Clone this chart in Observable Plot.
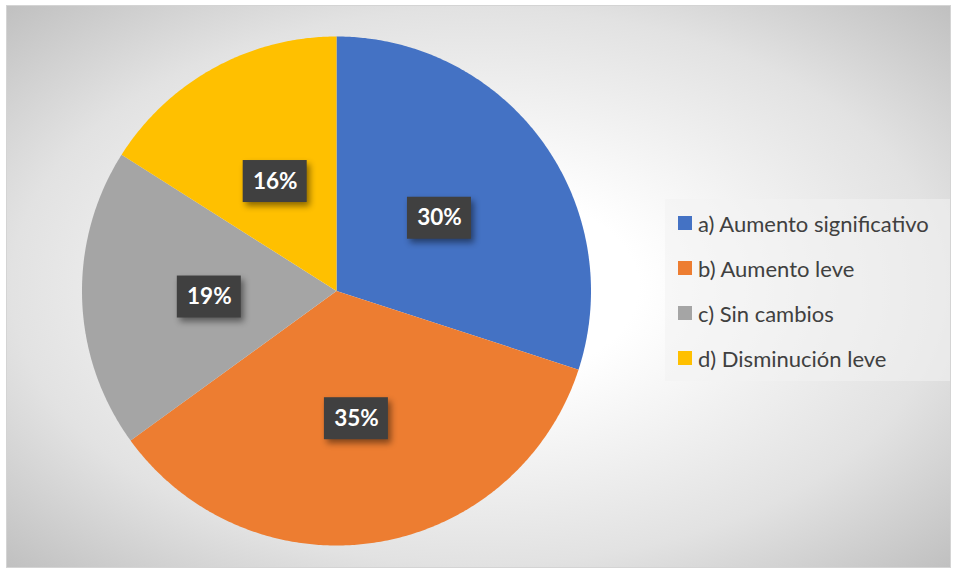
<!DOCTYPE html>
<html>
<head>
<meta charset="utf-8">
<script src="https://cdn.jsdelivr.net/npm/d3@7"></script>
<script src="https://cdn.jsdelivr.net/npm/@observablehq/plot@0.6"></script>
<style>
  html, body { margin: 0; padding: 0; background: #ffffff; }
  #wrap { position: relative; width: 954px; height: 572px; overflow: hidden; }
  #bg { position: absolute; left: 6px; top: 5px; width: 943px; height: 561px;
        border: 1px solid #d4d4d4;
        background: radial-gradient(ellipse farthest-corner at 50% 50%, #ffffff 0%, #ffffff 24%, #e2e2e2 70%, #c0c0c0 100%); }
  #chart { position: absolute; left: 0; top: 0; }
  #legend { position: absolute; left: 665px; top: 199px; width: 285px; height: 182px;
            background: rgba(242,242,242,0.55); font-family: Lato, "Open Sans", sans-serif;
            font-size: 22px; color: #404040; }
  .row { position: absolute; left: 13px; height: 24px; display: flex; align-items: center; white-space: nowrap; }
  .sw { width: 14px; height: 14px; margin-right: 6px; flex: none; }
</style>
</head>
<body>
<div id="wrap">
  <div id="bg"></div>
  <div id="chart"></div>
  <div id="legend"></div>
</div>
<script>
const categories = ["a) Aumento significativo", "b) Aumento leve", "c) Sin cambios", "d) Disminución leve"];
const values = [30, 35, 19, 16];
const labels = ["30%", "35%", "19%", "16%"];
const colors = ["#4472C4", "#ED7D31", "#A5A5A5", "#FFC000"];

const cx = 336, cy = 290.5, R = 254.5;

const arcs = d3.pie().sort(null).value(d => d)(values);

// polygon points for each slice (angles clockwise from 12 o'clock)
const slicePts = [];
arcs.forEach((a, i) => {
  slicePts.push({cat: categories[i], x: 0, y: 0});
  const n = Math.max(2, Math.ceil((a.endAngle - a.startAngle) / (Math.PI / 360)));
  for (let k = 0; k <= n; k++) {
    const t = a.startAngle + (a.endAngle - a.startAngle) * k / n;
    slicePts.push({cat: categories[i], x: Math.sin(t), y: Math.cos(t)});
  }
  slicePts.push({cat: categories[i], x: 0, y: 0});
});

const labelPts = arcs.map((a, i) => {
  const m = (a.startAngle + a.endAngle) / 2;
  return {label: labels[i], x: 0.5 * Math.sin(m), y: 0.5 * Math.cos(m) - 0.008};
});

const plot = Plot.plot({
  width: 954,
  height: 572,
  margin: 0,
  x: {domain: [-1, 1], range: [cx - R, cx + R], axis: null},
  y: {domain: [-1, 1], range: [cy + R, cy - R], axis: null},
  color: {domain: categories, range: colors},
  style: {background: "transparent"},
  marks: [
    Plot.line(slicePts, {x: "x", y: "y", z: "cat", fill: "cat", stroke: "none", curve: "linear"}),
    Plot.rect(labelPts, {x1: "x", x2: "x", y1: "y", y2: "y",
      insetLeft: -32, insetRight: -32, insetTop: -21, insetBottom: -21, fill: "#404040"}),
    Plot.text(labelPts, {x: "x", y: "y", text: "label", fill: "white",
      fontFamily: "Lato, 'Open Sans', sans-serif", fontWeight: 700, fontSize: 22.5})
  ]
});
d3.select(plot).selectAll("rect").filter(function() { return this.getAttribute("fill") === "#404040" || (this.parentNode && this.parentNode.getAttribute("fill") === "#404040"); })
  .style("filter", "drop-shadow(3px 4px 3px rgba(0,0,0,0.45))");
document.getElementById("chart").appendChild(plot);

const leg = d3.select("#legend");
categories.forEach((c, i) => {
  const row = leg.append("div").attr("class", "row").style("top", (12 + i * 45) + "px");
  row.append("div").attr("class", "sw").style("background", colors[i]);
  row.append("span").text(c);
});
</script>
</body>
</html>
